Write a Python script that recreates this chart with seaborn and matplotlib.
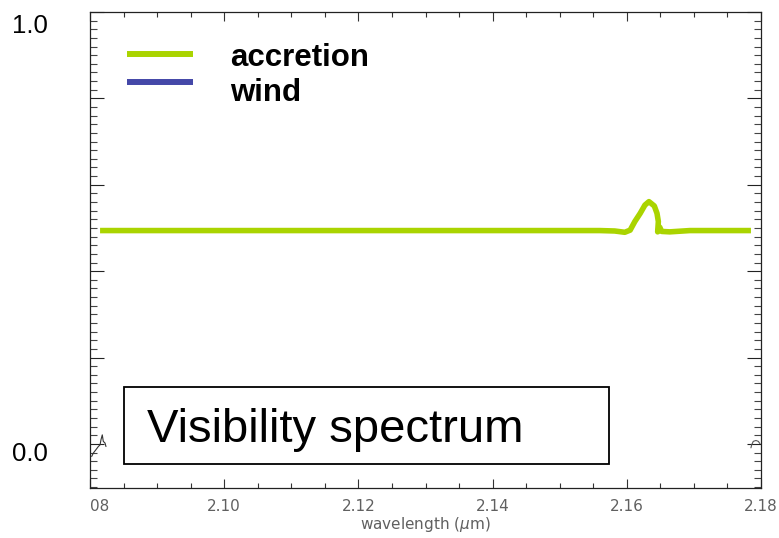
import matplotlib
matplotlib.use("Agg")
import matplotlib.pyplot as plt
import numpy as np
import pandas as pd
import seaborn as sns
from matplotlib.patches import Rectangle
from matplotlib.lines import Line2D
from matplotlib.ticker import FixedLocator, MultipleLocator

# Accretion model visibility across the Br-gamma region
wavelength = [2.0815, 2.1200, 2.1560, 2.1582, 2.1597, 2.1605, 2.1612, 2.1620,
              2.1627, 2.1633, 2.1641, 2.1645, 2.1647, 2.1646, 2.1649, 2.1652,
              2.1664, 2.1694, 2.1785]
visibility = [0.494, 0.494, 0.494, 0.493, 0.490, 0.495, 0.515, 0.534,
              0.553, 0.561, 0.551, 0.534, 0.515, 0.491, 0.502, 0.492,
              0.491, 0.494, 0.494]

# Short noisy traces near zero at the band edges
edge_left_wl = [2.08025, 2.0805, 2.0809, 2.08124, 2.0815, 2.08164, 2.08183,
                2.08198, 2.08224, 2.08238]
edge_left_vis = [-0.029, -0.021, -0.013, -0.006, -0.002, 0.010, 0.021,
                 0.006, 0.002, -0.006]
edge_right_wl = [2.17850, 2.17861, 2.17885, 2.17925, 2.17960, 2.17985]
edge_right_vis = [-0.009, -0.002, 0.006, 0.008, 0.006, 0.0005]

series_names = ["accretion", "wind"]
series_colors = ["#aad400", "#4448a8"]

x_ticks = [2.08, 2.10, 2.12, 2.14, 2.16, 2.18]
x_tick_labels = ["08", "2.10", "2.12", "2.14", "2.16", "2.18"]
y_label_values = [1.0, 0.0]
y_label_texts = ["1.0", "0.0"]

sns.set_style("ticks")
plt.rcParams["font.family"] = ["DejaVu Sans"]

W, H = 779, 538
fig = plt.figure(figsize=(W / 100, H / 100), dpi=100)
ax = fig.add_axes([90 / W, 1 - 488 / H, 671 / W, 476 / H])

df = pd.DataFrame({"wavelength": wavelength, "visibility": visibility})
sns.lineplot(data=df, x="wavelength", y="visibility", sort=False, estimator=None,
             color=series_colors[0], linewidth=4.0, ax=ax, legend=False,
             solid_joinstyle="round", solid_capstyle="butt")

edges = pd.DataFrame({"wl": edge_left_wl, "v": edge_left_vis})
sns.lineplot(data=edges, x="wl", y="v", sort=False, estimator=None,
             color="#333333", linewidth=0.8, ax=ax, legend=False)
edges_r = pd.DataFrame({"wl": edge_right_wl, "v": edge_right_vis})
sns.lineplot(data=edges_r, x="wl", y="v", sort=False, estimator=None,
             color="#555555", linewidth=0.8, ax=ax, legend=False)

ax.set_xlim(2.08, 2.18)
ax.set_ylim(-0.102, 1.0)

for sp in ax.spines.values():
    sp.set_visible(True)
    sp.set_linewidth(0.9)
    sp.set_color("#222222")

# x axis: IDL-style gray ticks
ax.xaxis.set_major_locator(FixedLocator(x_ticks))
ax.xaxis.set_minor_locator(MultipleLocator(0.005))
ax.set_xticklabels(x_tick_labels)
ax.get_xticklabels()[0].set_horizontalalignment("left")
ax.tick_params(axis="x", which="major", direction="in", length=6.5, width=0.8,
               color="#333333", top=True, bottom=True, pad=8,
               labelsize=11, labelcolor="#606060")
ax.tick_params(axis="x", which="minor", direction="in", length=3.3, width=0.8,
               color="#333333", top=True, bottom=True)

# y axis: ticks only, labels drawn separately
ax.yaxis.set_major_locator(MultipleLocator(0.2))
ax.yaxis.set_minor_locator(MultipleLocator(0.02))
ax.tick_params(axis="y", which="major", direction="in", length=10, width=0.8,
               color="#222222", left=True, right=True, labelleft=False)
ax.tick_params(axis="y", which="minor", direction="in", length=5, width=0.8,
               color="#444444", left=True, right=True)

ax.set_xlabel(r"wavelength ($\mu$m)", fontsize=11, color="#606060", labelpad=0.5)
ax.set_ylabel("")

for val, txt, dy in zip(y_label_values, y_label_texts, [-21, -17]):
    ax.annotate(txt, xy=(0, val), xycoords=("axes fraction", "data"),
                xytext=(-42, dy), textcoords="offset pixels",
                ha="right", va="baseline", fontsize=18.5,
                family=["Liberation Sans"], color="black", annotation_clip=False)

# Legend drawn as line samples with labels to the right
line_y = [0.9118, 0.8529]
text_y = [0.8866, 0.8130]
for name, col, ly, ty in zip(series_names, series_colors, line_y, text_y):
    ax.add_line(Line2D([0.0551, 0.1535], [ly, ly], transform=ax.transAxes,
                       color=col, linewidth=4.3, solid_capstyle="butt"))
    ax.text(0.2086, ty, name, transform=ax.transAxes, ha="left", va="baseline",
            fontsize=22.5, fontweight="bold", family=["Liberation Sans"],
            color="black")

# Title box
ax.add_patch(Rectangle((0.0507, 0.0504), 0.7228, 0.1618, transform=ax.transAxes,
                       fill=False, edgecolor="black", linewidth=1.3, zorder=5))
ax.text(0.085, 0.0966, "Visibility spectrum", transform=ax.transAxes,
        ha="left", va="baseline", fontsize=34, family=["Liberation Sans"],
        color="black", zorder=6)

fig.savefig("out.png", dpi=100)
